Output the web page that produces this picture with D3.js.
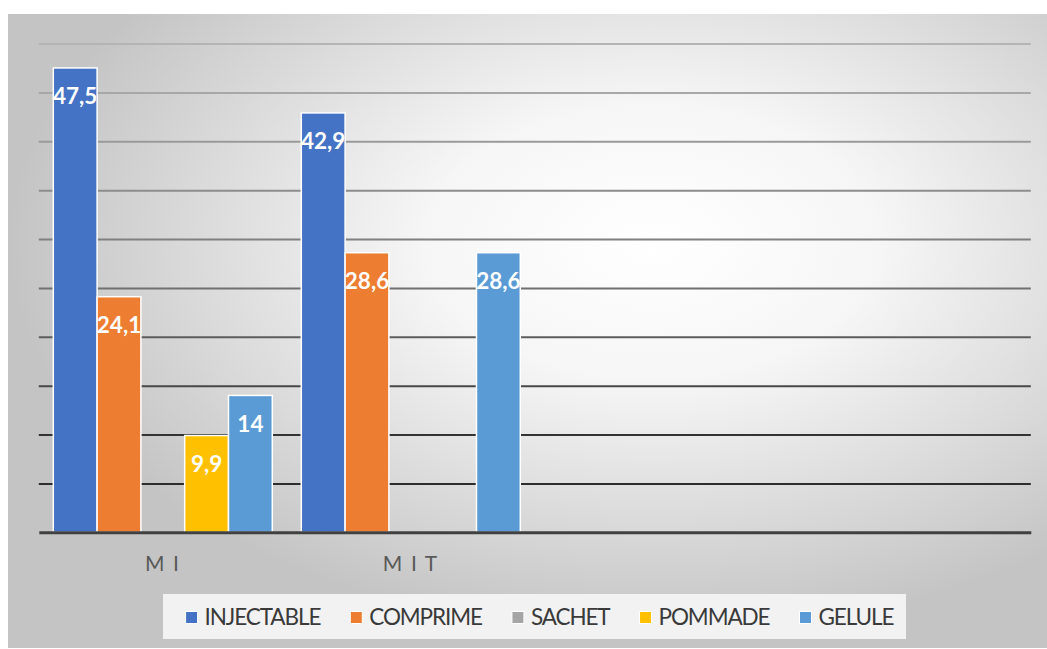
<!DOCTYPE html>
<html>
<head>
<meta charset="utf-8">
<script src="https://cdn.jsdelivr.net/npm/d3@7"></script>
<style>
  html, body { margin: 0; padding: 0; background: #ffffff; }
  svg { display: block; }
</style>
</head>
<body>
<svg id="chart" width="1047" height="649"></svg>
<script>
// Categories along the x axis (the last two groups are empty)
const categories = ["M I", "M I T", "", ""];
// Series names, in legend order
const seriesNames = ["INJECTABLE", "COMPRIME", "SACHET", "POMMADE", "GELULE"];
// Values per series, one per category (null = no bar)
const injectable = [47.5, 42.9, null, null];
const comprime   = [24.1, 28.6, null, null];
const sachet     = [null, null, null, null];
const pommade    = [9.9, null, null, null];
const gelule     = [14, 28.6, null, null];
const seriesValues = [injectable, comprime, sachet, pommade, gelule];
const seriesColors = ["#4472c4", "#ed7d31", "#a5a5a5", "#ffc000", "#5b9bd5"];
// Value axis: 0 to 50, gridline every 5
const yMax = 50;
const yTickStep = 5;

const W = 1047, H = 649;
const svg = d3.select("#chart");
const defs = svg.append("defs");

// Chart area background: soft radial white-to-grey
const bg = defs.append("radialGradient")
  .attr("id", "bgGrad")
  .attr("cx", 0.62).attr("cy", 0.36).attr("r", 0.62)
  .attr("fx", 0.62).attr("fy", 0.36);
bg.append("stop").attr("offset", "0%").attr("stop-color", "#ffffff");
bg.append("stop").attr("offset", "35%").attr("stop-color", "#f6f6f6");
bg.append("stop").attr("offset", "100%").attr("stop-color", "#c4c4c4");

svg.append("rect")
  .attr("x", 8).attr("y", 14)
  .attr("width", W - 8).attr("height", 634)
  .attr("fill", "url(#bgGrad)");

const plot = { left: 38.8, right: 1030.8, top: 43.5, bottom: 532.3 };

const x0 = d3.scaleBand()
  .domain(d3.range(categories.length))
  .range([plot.left, plot.right])
  .padding(0);

const groupPad = x0.bandwidth() * 0.0585;
const x1 = d3.scaleBand()
  .domain(seriesNames)
  .range([groupPad, x0.bandwidth() - groupPad])
  .padding(0);

const y = d3.scaleLinear()
  .domain([0, yMax])
  .range([plot.bottom, plot.top]);

// Gridlines darken toward the bottom of the plot
const gridColor = d3.scaleLinear()
  .domain([yMax, yMax * 0.55, yMax * 0.2, 0])
  .range(["#b4b4b4", "#7a7a7a", "#333333", "#262626"]);

const ticks = d3.range(yTickStep, yMax + 0.001, yTickStep);
const yAxis = d3.axisLeft(y)
  .tickValues(ticks)
  .tickSize(-(plot.right - plot.left))
  .tickFormat("");

const grid = svg.append("g")
  .attr("transform", `translate(${plot.left},0)`)
  .call(yAxis);
grid.select(".domain").remove();
grid.selectAll(".tick line")
  .attr("stroke", d => gridColor(d))
  .attr("stroke-width", 2);

// Bars
const groups = svg.append("g")
  .selectAll("g")
  .data(categories.map((c, i) => i))
  .join("g")
  .attr("transform", i => `translate(${x0(i)},0)`);

const barData = i => seriesNames
  .map((s, k) => ({ series: s, value: seriesValues[k][i], color: seriesColors[k] }))
  .filter(d => d.value != null);

groups.selectAll("rect")
  .data(barData)
  .join("rect")
  .attr("x", d => x1(d.series))
  .attr("y", d => y(d.value))
  .attr("width", x1.bandwidth())
  .attr("height", d => y(0) - y(d.value))
  .attr("fill", d => d.color)
  .attr("stroke", "#ffffff")
  .attr("stroke-width", 1.5);

// Value labels inside the top of each bar
const fmt = v => String(v).replace(".", ",");
groups.selectAll("text.value")
  .data(barData)
  .join("text")
  .attr("class", "value")
  .attr("x", d => x1(d.series) + x1.bandwidth() / 2)
  .attr("y", d => y(d.value) + 28)
  .attr("dy", "0.36em")
  .attr("text-anchor", "middle")
  .attr("font-family", "Lato, 'Open Sans', sans-serif")
  .attr("font-weight", 700)
  .attr("font-size", 22.5)
  .attr("fill", "#ffffff")
  .text(d => fmt(d.value));

// Baseline (category axis)
const xAxis = d3.axisBottom(x0).tickSize(0).tickFormat(i => categories[i]);
const xg = svg.append("g")
  .attr("transform", `translate(0,${y(0)})`)
  .call(xAxis);
xg.select(".domain")
  .attr("stroke", "#404040")
  .attr("stroke-width", 3);
xg.selectAll(".tick text")
  .attr("y", 38.5)
  .attr("dy", 0)
  .attr("font-family", "Lato, 'Open Sans', sans-serif")
  .attr("font-size", 21)
  .attr("letter-spacing", 1.6)
  .attr("fill", "#595959");

// Legend
const legendBox = { x: 163, y: 594, w: 743, h: 45 };
svg.append("rect")
  .attr("x", legendBox.x).attr("y", legendBox.y)
  .attr("width", legendBox.w).attr("height", legendBox.h)
  .attr("fill", "#f2f2f2");

const legend = svg.append("g");
const items = legend.selectAll("g")
  .data(seriesNames.map((s, k) => ({ name: s, color: seriesColors[k] })))
  .join("g");
items.append("rect")
  .attr("width", 12).attr("height", 12)
  .attr("y", -13)
  .attr("fill", d => d.color)
  .attr("stroke", "#ffffff")
  .attr("stroke-width", 1);
items.append("text")
  .attr("x", 19)
  .attr("font-family", "Lato, 'Open Sans', sans-serif")
  .attr("font-size", 22.5)
  .attr("letter-spacing", -1.1)
  .attr("fill", "#3a3a3a")
  .text(d => d.name);

const gap = 30;
const widths = [];
items.each(function () {
  widths.push(19 + d3.select(this).select("text").node().getComputedTextLength());
});
const total = d3.sum(widths) + gap * (widths.length - 1);
let cx = legendBox.x + (legendBox.w - total) / 2 + 5;
items.attr("transform", (d, k) => {
  const t = `translate(${cx},${legendBox.y + 30.5})`;
  cx += widths[k] + gap;
  return t;
});
</script>
</body>
</html>
